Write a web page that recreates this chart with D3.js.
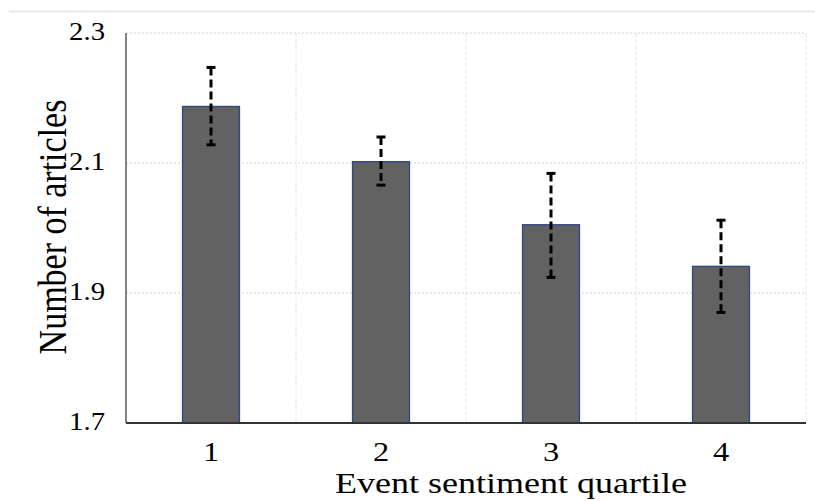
<!DOCTYPE html>
<html>
<head>
<meta charset="utf-8">
<script src="https://cdn.jsdelivr.net/npm/d3@7"></script>
<style>
  html, body { margin: 0; padding: 0; background: #fff; }
  text { font-family: "Liberation Serif", "Times New Roman", serif; fill: #000; }
</style>
</head>
<body>
<svg id="chart" width="815" height="501"></svg>
<script>
const quartiles = ["1", "2", "3", "4"];
const meanArticles = [2.187, 2.102, 2.005, 1.941];
const errUpper = [2.247, 2.140, 2.084, 2.012];
const errLower = [2.128, 2.066, 1.924, 1.870];
const yTicks = [1.7, 1.9, 2.1, 2.3];

const svg = d3.select("#chart");
const margin = { left: 126, right: 9, top: 33, bottom: 78 };
const width = 815, height = 501;
const stretch = 1.2; // text in the original looks widened

const x = d3.scaleBand()
    .domain(quartiles)
    .range([margin.left, width - margin.right])
    .paddingInner(0.665)
    .paddingOuter(0.3325);

const y = d3.scaleLinear()
    .domain([1.7, 2.3])
    .range([height - margin.bottom, margin.top]);

// thin frame line on top of the page
svg.append("line")
    .attr("x1", 9).attr("x2", width)
    .attr("y1", 11.5).attr("y2", 11.5)
    .attr("stroke", "#e2e2e2").attr("stroke-width", 1.5);

// horizontal grid
svg.append("g")
    .selectAll("line")
    .data(yTicks.filter(d => d > 1.7))
    .join("line")
    .attr("x1", margin.left).attr("x2", width - margin.right)
    .attr("y1", d => y(d)).attr("y2", d => y(d))
    .attr("stroke", "#d4d4d4").attr("stroke-dasharray", "2,2");

// vertical grid at category borders
const step = x.step();
svg.append("g")
    .selectAll("line")
    .data(quartiles)
    .join("line")
    .attr("x1", d => x(d) + x.bandwidth() / 2 + step / 2)
    .attr("x2", d => x(d) + x.bandwidth() / 2 + step / 2)
    .attr("y1", y(2.3)).attr("y2", y(1.7))
    .attr("stroke", "#e4e4e4").attr("stroke-dasharray", "4,2");

// bars
svg.append("g")
    .selectAll("rect")
    .data(meanArticles)
    .join("rect")
    .attr("x", (d, i) => x(quartiles[i]))
    .attr("y", d => y(d))
    .attr("width", x.bandwidth())
    .attr("height", d => y(1.7) - y(d))
    .attr("fill", "#626262")
    .attr("stroke", "#2d4785")
    .attr("stroke-width", 1.3);

// error bars
const eb = svg.append("g");
const cx = i => x(quartiles[i]) + x.bandwidth() / 2;
eb.selectAll("line.stem")
    .data(meanArticles)
    .join("line")
    .attr("class", "stem")
    .attr("x1", (d, i) => cx(i)).attr("x2", (d, i) => cx(i))
    .attr("y1", (d, i) => y(errUpper[i])).attr("y2", (d, i) => y(errLower[i]))
    .attr("stroke", "#000").attr("stroke-width", 3)
    .attr("stroke-dasharray", "8,4");
[errUpper, errLower].forEach(arr => {
  eb.append("g").selectAll("line")
      .data(arr)
      .join("line")
      .attr("x1", (d, i) => cx(i) - 4.5).attr("x2", (d, i) => cx(i) + 4.5)
      .attr("y1", d => y(d)).attr("y2", d => y(d))
      .attr("stroke", "#000").attr("stroke-width", 3);
});

// axes lines
svg.append("line")
    .attr("x1", margin.left).attr("x2", margin.left)
    .attr("y1", y(2.3)).attr("y2", y(1.7))
    .attr("stroke", "#5a5a5a").attr("stroke-width", 1.5);
svg.append("line")
    .attr("x1", margin.left).attr("x2", width - margin.right)
    .attr("y1", y(1.7)).attr("y2", y(1.7))
    .attr("stroke", "#333").attr("stroke-width", 2);

// y tick labels
svg.append("g")
    .selectAll("text")
    .data(yTicks)
    .join("text")
    .attr("transform", d => `translate(105,${y(d) + 7}) scale(1.15,1)`)
    .attr("text-anchor", "end")
    .attr("font-size", 25)
    .text(d => d3.format(".1f")(d));

// x tick labels
svg.append("g")
    .selectAll("text")
    .data(quartiles)
    .join("text")
    .attr("transform", d => `translate(${x(d) + x.bandwidth() / 2},461) scale(${stretch},1)`)
    .attr("text-anchor", "middle")
    .attr("font-size", 27)
    .text(d => d);

// axis titles
svg.append("text")
    .attr("transform", `translate(511,493) scale(${stretch},1)`)
    .attr("text-anchor", "middle")
    .attr("font-size", 30)
    .text("Event sentiment quartile");

svg.append("text")
    .attr("transform", `translate(66,227) scale(1.15,1) rotate(-90)`)
    .attr("text-anchor", "middle")
    .attr("font-size", 34)
    .text("Number of articles");
</script>
</body>
</html>
